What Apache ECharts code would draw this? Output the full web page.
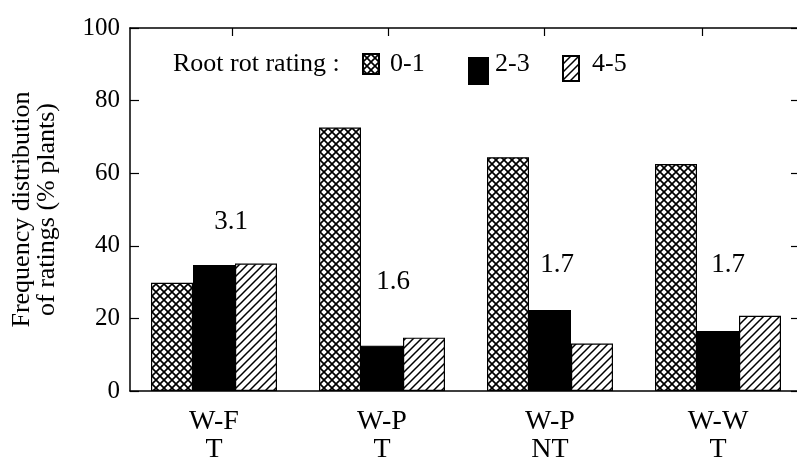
<!DOCTYPE html>
<html><head><meta charset="utf-8">
<script src="https://cdn.jsdelivr.net/npm/echarts@6/dist/echarts.min.js"></script>
<style>html,body{margin:0;padding:0;background:#fff}#c{width:797px;height:459px}</style>
</head><body><div id="c"></div>
<script>
// ---- data ----
const categories = ['W-F\nT', 'W-P\nT', 'W-P\nNT', 'W-W\nT'];
const seriesNames = ['0-1', '2-3', '4-5'];
const rating01 = [29.8, 72.6, 64.4, 62.5];
const rating23 = [34.7, 12.5, 22.3, 16.5];
const rating45 = [35.1, 14.7, 13.1, 20.7];
const meanRatings = ['3.1', '1.6', '1.7', '1.7'];
const meanRatingLevel = [46.7, 30.1, 34.7, 34.7];
const yTickValues = [0, 20, 40, 60, 80, 100];
const topTickValues = [0.607, 1.536, 2.464, 3.405];
const legendLabel = 'Root rot rating :';

// ---- style ----
const FONT = 'Liberation Serif';
const meanLabelDx = [17, 11, 7, 10];
const legendIconBoxes = [ // [left, top, width, height]
  [362, 53, 16, 20], [468, 57, 19, 26], [562, 55, 16, 25]
];
const legendTextLeft = [390, 495, 592];

function crossPattern() {
  const s = 8, c = document.createElement('canvas');
  c.width = s; c.height = s;
  const g = c.getContext('2d');
  g.fillStyle = '#fff'; g.fillRect(0, 0, s, s);
  g.strokeStyle = '#000'; g.lineWidth = 1.7;
  g.beginPath();
  g.moveTo(-1, -1); g.lineTo(s + 1, s + 1);
  g.moveTo(-1, s + 1); g.lineTo(s + 1, -1);
  g.stroke();
  return { image: c, repeat: 'repeat' };
}
function hatchPattern() {
  const s = 8, c = document.createElement('canvas');
  c.width = s; c.height = s;
  const g = c.getContext('2d');
  g.fillStyle = '#fff'; g.fillRect(0, 0, s, s);
  g.strokeStyle = '#000'; g.lineWidth = 1.5;
  g.beginPath();
  g.moveTo(-1, s + 1); g.lineTo(s + 1, -1);
  g.moveTo(-2, 2); g.lineTo(2, -2);
  g.moveTo(s - 2, s + 2); g.lineTo(s + 2, s - 2);
  g.stroke();
  return { image: c, repeat: 'repeat' };
}

const chart = echarts.init(document.getElementById('c'), null, { renderer: 'canvas' });
const barCommon = {
  type: 'bar', barWidth: 42, barGap: '0%', barCategoryGap: '25%',
  xAxisIndex: 0, yAxisIndex: 0
};
const titleText = { fontFamily: FONT, fontSize: 26, fontWeight: 'normal', color: '#000' };
const titles = [{ text: legendLabel, left: 168, top: 46, textStyle: titleText }]
  .concat(seriesNames.map((n, i) => ({
    text: n, left: legendTextLeft[i] - 5, top: 46, textStyle: titleText
  })));
const legends = seriesNames.map((n, i) => ({
  data: [n], icon: 'rect', padding: 0,
  left: legendIconBoxes[i][0], top: legendIconBoxes[i][1],
  itemWidth: legendIconBoxes[i][2], itemHeight: legendIconBoxes[i][3],
  formatter: () => ' ',
  textStyle: { fontSize: 2, color: '#fff' }
}));

chart.setOption({
  animation: false,
  backgroundColor: '#fff',
  textStyle: { fontFamily: FONT, color: '#000' },
  grid: { left: 130, top: 28, bottom: 68, right: -5, containLabel: false, outerBoundsMode: 'none' },
  title: titles,
  legend: legends,
  xAxis: [{
    type: 'category', data: categories, position: 'bottom',
    axisLine: { lineStyle: { color: '#000', width: 1.5 } },
    axisTick: { alignWithLabel: true, length: 9, lineStyle: { color: '#000', width: 1.2 } },
    axisLabel: { fontFamily: FONT, fontSize: 28, lineHeight: 28, color: '#000', margin: 17 }
  }, {
    type: 'value', position: 'top', min: 0, max: categories.length,
    axisLine: { show: true, onZero: false, lineStyle: { color: '#000', width: 1.5 } },
    axisTick: { show: true, inside: true, length: 8, customValues: topTickValues, lineStyle: { color: '#000', width: 1.2 } },
    axisLabel: { show: false }, splitLine: { show: false }
  }],
  yAxis: [{
    type: 'value', min: yTickValues[0], max: yTickValues[yTickValues.length - 1],
    interval: yTickValues[1] - yTickValues[0], position: 'left',
    name: 'Frequency distribution\nof ratings (% plants)',
    nameLocation: 'middle', nameRotate: 90, nameGap: 70,
    nameTextStyle: { fontFamily: FONT, fontSize: 26, lineHeight: 25, color: '#000' },
    axisLine: { show: true, lineStyle: { color: '#000', width: 1.5 } },
    axisTick: { show: true, inside: true, length: 9, lineStyle: { color: '#000', width: 1.2 } },
    axisLabel: { fontFamily: FONT, fontSize: 25, color: '#000', margin: 10 },
    splitLine: { show: false }
  }, {
    type: 'value', min: yTickValues[0], max: yTickValues[yTickValues.length - 1],
    interval: yTickValues[1] - yTickValues[0], position: 'right',
    axisLine: { show: true, lineStyle: { color: '#000', width: 1.5 } },
    axisTick: { show: true, inside: true, length: 11, lineStyle: { color: '#000', width: 1.2 } },
    axisLabel: { show: false }, splitLine: { show: false }
  }],
  series: [
    Object.assign({}, barCommon, { name: seriesNames[0], data: rating01,
      itemStyle: { color: crossPattern(), borderColor: '#000', borderWidth: 1.2 } }),
    Object.assign({}, barCommon, { name: seriesNames[1], data: rating23,
      itemStyle: { color: '#000', borderColor: '#000', borderWidth: 1.2 } }),
    Object.assign({}, barCommon, { name: seriesNames[2], data: rating45,
      itemStyle: { color: hatchPattern(), borderColor: '#000', borderWidth: 1.2 } }),
    {
      type: 'scatter', xAxisIndex: 0, yAxisIndex: 0, symbolSize: 0, silent: true,
      itemStyle: { opacity: 1 },
      data: meanRatings.map((t, i) => ({
        value: [i, meanRatingLevel[i]],
        label: { offset: [meanLabelDx[i], 0] }
      })),
      label: {
        show: true, position: 'inside', opacity: 1,
        formatter: p => meanRatings[p.dataIndex],
        fontFamily: FONT, fontSize: 27, color: '#000', textBorderWidth: 0
      }
    }
  ]
});
</script></body></html>
